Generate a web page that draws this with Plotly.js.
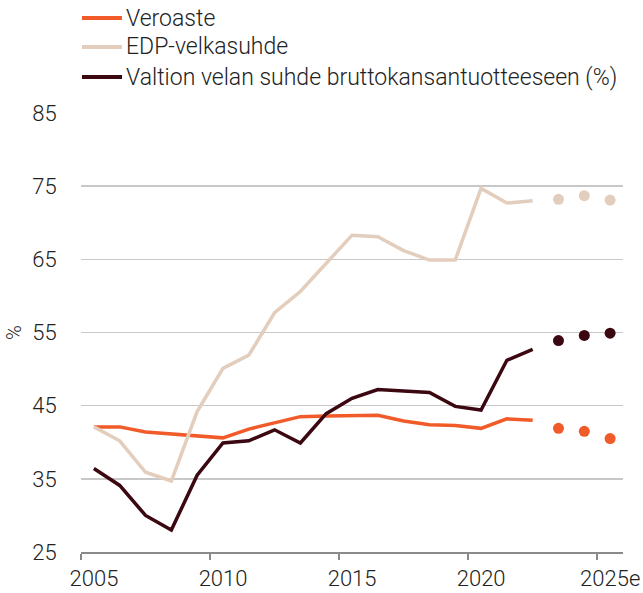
<!DOCTYPE html>
<html>
<head>
<meta charset="utf-8">
<script src="https://cdn.plot.ly/plotly-3.0.1.min.js"></script>
<style>html,body{margin:0;padding:0;background:#fff;}#chart{width:643px;height:593px;}</style>
</head>
<body>
<div id="chart"></div>
<script>
// Historical years (lines) and forecast years (dots)
const years = [2005,2006,2007,2008,2009,2010,2011,2012,2013,2014,2015,2016,2017,2018,2019,2020,2021,2022];
const forecastYears = [2023,2024,2025];

const veroaste = [42.1,42.1,41.4,41.1,40.8,40.6,41.8,42.6,43.5,43.6,43.6,43.7,42.9,42.4,42.3,41.9,43.2,43.0];
const veroasteForecast = [41.9,41.5,40.5];

const edpVelka = [42.1,40.2,35.9,34.7,44.2,50.1,51.9,57.7,60.6,64.5,68.3,68.1,66.2,64.9,64.9,74.7,72.7,73.0];
const edpVelkaForecast = [73.2,73.7,73.1];

const valtionVelka = [36.4,34.1,30.0,28.0,35.5,39.9,40.2,41.7,39.9,43.9,46.0,47.2,47.0,46.8,44.9,44.4,51.2,52.7];
const valtionVelkaForecast = [53.9,54.6,54.9];

const seriesNames = ["Veroaste","EDP-velkasuhde","Valtion velan suhde bruttokansantuotteeseen (%)"];
const colors = ["#F15A29","#E3CDBC","#3B0710"];

const tickYears = [2005,2010,2015,2020,2025];
const tickLabels = ["2005","2010","2015","2020","2025e"];
const yTicks = [25,35,45,55,65,75,85];

const hist = [veroaste, edpVelka, valtionVelka];
const fc = [veroasteForecast, edpVelkaForecast, valtionVelkaForecast];

const traces = [];
hist.forEach((vals, i) => {
  traces.push({
    x: years, y: vals, type: "scatter", mode: "lines",
    name: seriesNames[i], line: {color: colors[i], width: 3.5},
    showlegend: false, hoverinfo: "x+y"
  });
});
fc.forEach((vals, i) => {
  traces.push({
    x: forecastYears, y: vals, type: "scatter", mode: "markers",
    showlegend: false, name: seriesNames[i],
    marker: {color: colors[i], size: 11}
  });
});

const fam = "Roboto, 'Open Sans', sans-serif";
const W = 643, H = 593;
const M = {l: 81, r: 20, t: 113, b: 41};
const plotW = W - M.l - M.r, plotH = H - M.t - M.b;
const px2x = px => (px - M.l) / plotW;
const py2y = py => (H - M.b - py) / plotH;

// Legend drawn manually (lines + labels) at the top-left
const legendRowsPx = [18, 47, 77];
const shapes = [], annotations = [];
seriesNames.forEach((name, i) => {
  const yy = py2y(legendRowsPx[i]);
  shapes.push({type: "line", xref: "paper", yref: "paper",
    x0: px2x(82), x1: px2x(122), y0: yy, y1: yy,
    line: {color: colors[i], width: 4}});
  annotations.push({xref: "paper", yref: "paper", x: px2x(124), y: yy,
    xanchor: "left", yanchor: "middle", showarrow: false, text: name,
    font: {family: fam, size: 23, color: "#222", weight: 300}});
});

const layout = {
  width: W, height: H,
  margin: {l: M.l, r: M.r, t: M.t, b: M.b, autoexpand: false},
  paper_bgcolor: "#fff", plot_bgcolor: "#fff",
  font: {family: fam, size: 22, color: "#222", weight: 300},
  showlegend: false,
  shapes: shapes,
  annotations: annotations,
  xaxis: {
    range: [2004.5, 2025.5],
    tickvals: tickYears.map(v => v - 0.5),
    ticktext: tickLabels,
    ticklabelshift: 13,
    tickangle: 0,
    automargin: false,
    ticks: "outside", ticklen: 6, tickwidth: 2, tickcolor: "#8a8a8a",
    showline: true, linecolor: "#8a8a8a", linewidth: 2,
    showgrid: false, zeroline: false,
    tickfont: {family: fam, size: 22, color: "#222", weight: 300}
  },
  yaxis: {
    range: [25, 85],
    tickvals: yTicks,
    automargin: false,
    ticks: "outside", ticklen: 19, tickcolor: "rgba(0,0,0,0)",
    showgrid: true, gridcolor: "#c8c8c8", gridwidth: 1.5,
    zeroline: false, showline: false,
    title: {text: "%", standoff: 5, font: {family: fam, size: 20, color: "#222", weight: 300}},
    tickfont: {family: fam, size: 22, color: "#222", weight: 300}
  }
};

Plotly.newPlot("chart", traces, layout, {displayModeBar: false, staticPlot: true});
</script>
</body>
</html>
